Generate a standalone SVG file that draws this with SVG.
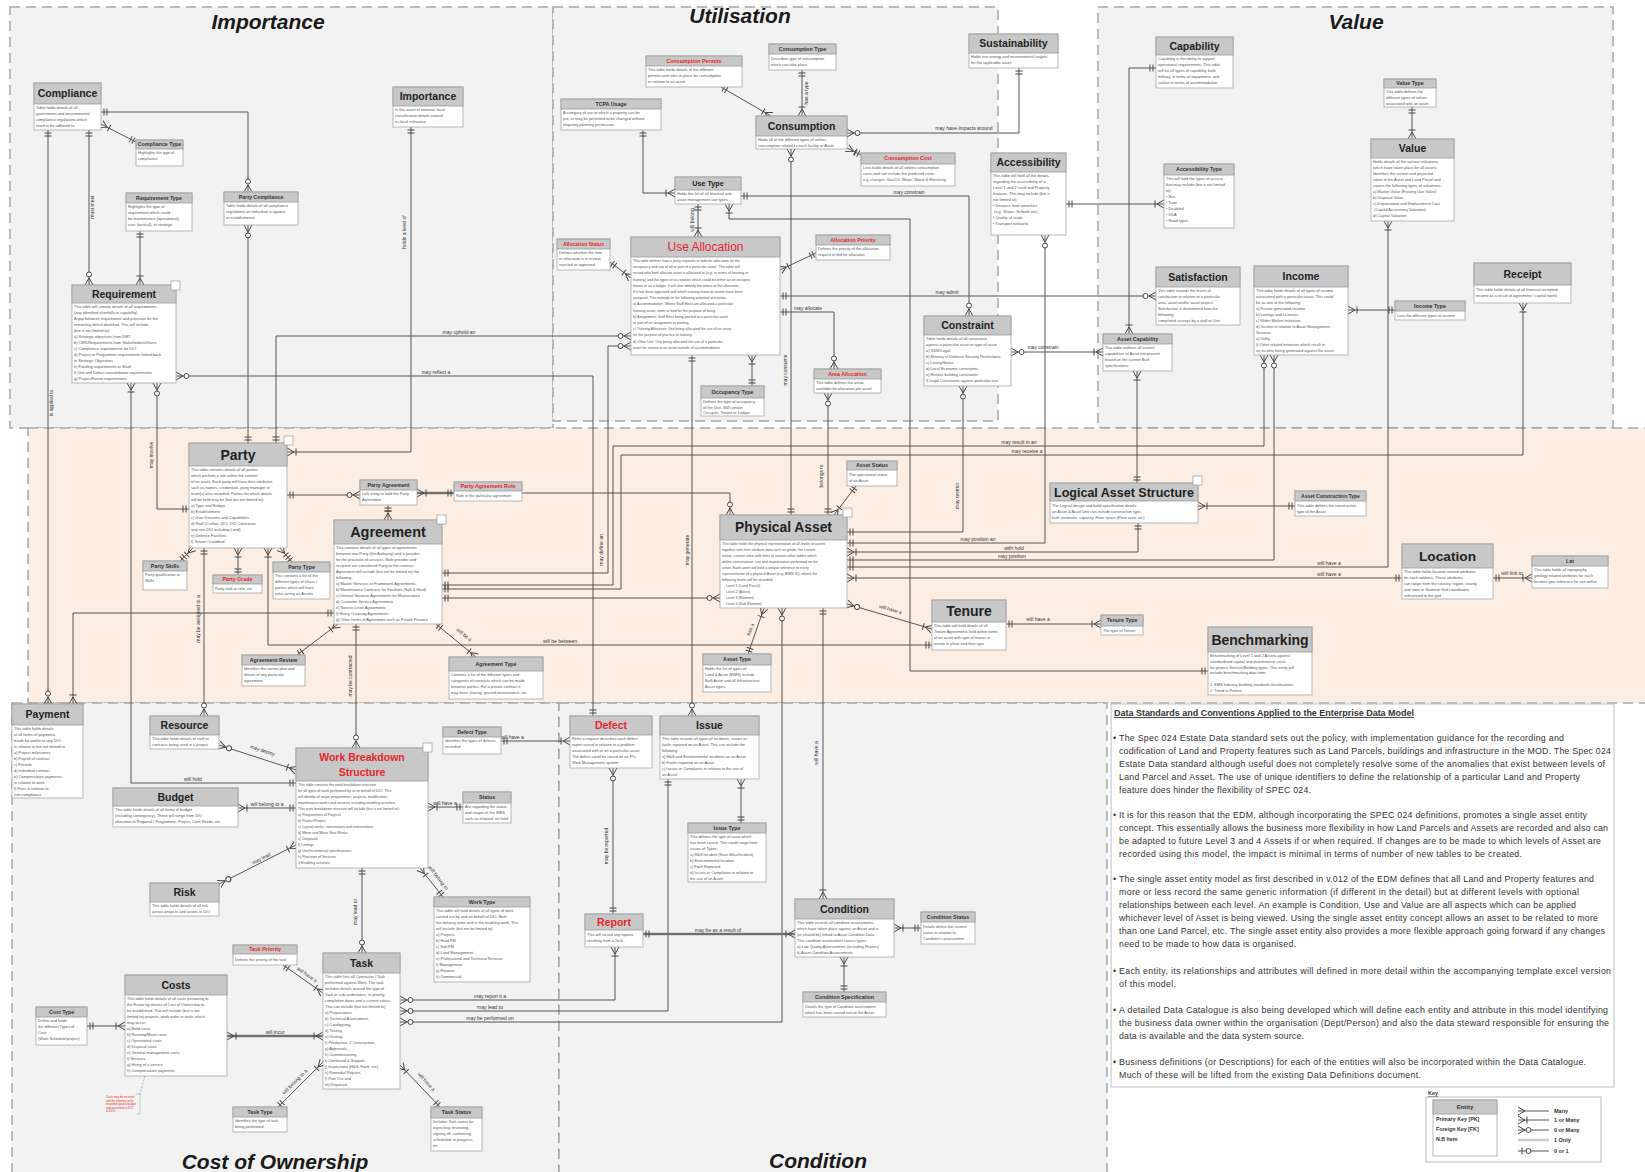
<svg xmlns="http://www.w3.org/2000/svg" width="1645" height="1172" viewBox="0 0 1645 1172">
<defs>
<style>
text{font-family:'Liberation Sans',Arial,sans-serif}
.rt{font-size:21px;font-weight:bold;font-style:italic;text-anchor:middle;fill:#1a1a1a}
.hd{fill:#c8c8c8;stroke:#9c9c9c;stroke-width:.8}
.bd{fill:#fff;stroke:#a8a8a8;stroke-width:.8}
.tm{font-size:10.5px;font-weight:bold;text-anchor:middle;fill:#222}
.tl{font-size:14px;font-weight:bold;text-anchor:middle;fill:#222}
.ts{font-size:5.3px;font-weight:bold;text-anchor:middle;fill:#333}
.red{fill:#e5262b}
.b{font-size:3.9px;fill:#555}
.b2{font-size:3.6px;fill:#555}
.lb{font-size:5px;fill:#333;text-anchor:middle}
.cn{fill:none;stroke:#555;stroke-width:1}
.th{fill:none;stroke:#8a8a8a;stroke-width:2.4}
.dash{stroke:#a6a6a6;stroke-width:1.5;stroke-dasharray:10 6}
.nt{fill:#fff;stroke:#9c9c9c;stroke-width:.7}
.ds{font-size:8.8px;fill:#333}
.mk{fill:none;stroke:#444;stroke-width:1}
</style>
<marker id="one" viewBox="0 0 12 10" refX="12" refY="5" markerWidth="12" markerHeight="10" markerUnits="userSpaceOnUse" orient="auto-start-reverse"><path class="mk" d="M6,1.5V8.5M9,1.5V8.5"/></marker>
<marker id="crow" viewBox="0 0 12 10" refX="12" refY="5" markerWidth="12" markerHeight="10" markerUnits="userSpaceOnUse" orient="auto-start-reverse"><path class="mk" d="M3,1.5V8.5M5,5L12,1M5,5L12,9"/></marker>
<marker id="many" viewBox="0 0 12 10" refX="12" refY="5" markerWidth="12" markerHeight="10" markerUnits="userSpaceOnUse" orient="auto-start-reverse"><path class="mk" d="M5,5L12,1M5,5L12,9"/></marker>
<marker id="zm" viewBox="0 0 14 10" refX="14" refY="5" markerWidth="14" markerHeight="10" markerUnits="userSpaceOnUse" orient="auto-start-reverse"><path class="mk" d="M7,5L14,1M7,5L14,9"/><circle cx="3.5" cy="5" r="2.5" fill="#fff" stroke="#444" stroke-width="1"/></marker>
<marker id="zo" viewBox="0 0 14 10" refX="14" refY="5" markerWidth="14" markerHeight="10" markerUnits="userSpaceOnUse" orient="auto-start-reverse"><path class="mk" d="M10,1.5V8.5"/><circle cx="3.5" cy="5" r="2.5" fill="#fff" stroke="#444" stroke-width="1"/></marker>
</defs>
<rect x="0" y="0" width="1645" height="1172" fill="#fff"/>
<g id="regions">
<rect x="10" y="7" width="543" height="421" fill="#f2f2f2" class="dash"/>
<rect x="553" y="7" width="445" height="414" fill="#f2f2f2" class="dash"/>
<rect x="1098" y="7" width="515" height="421" fill="#f2f2f2" class="dash"/>
<rect x="28" y="428" width="1625" height="275" fill="#fdeee3" class="dash"/>
<rect x="12" y="703" width="547" height="480" fill="#f2f2f2" class="dash"/>
<rect x="559" y="703" width="548" height="480" fill="#f2f2f2" class="dash"/>
<text class="rt" x="268" y="29">Importance</text>
<text class="rt" x="740" y="23">Utilisation</text>
<text class="rt" x="1356" y="29">Value</text>
<text class="rt" x="275" y="1169">Cost of Ownership</text>
<text class="rt" x="818" y="1168">Condition</text>
</g>
<g id="connectors">
<path class="cn" d="M101,112H248V192" marker-start="url(#one)" marker-end="url(#zm)"/>
<path class="cn" d="M101,124L136,142" marker-start="url(#crow)" marker-end="url(#one)"/>
<path class="cn" d="M89,130V285" marker-start="url(#one)" marker-end="url(#zm)"/>
<path class="cn" d="M48,130V704" marker-start="url(#one)" marker-end="url(#zm)"/>
<path class="cn" d="M140,231V285" marker-start="url(#one)" marker-end="url(#crow)"/>
<path class="cn" d="M248,225V443" marker-start="url(#zm)" marker-end="url(#one)"/>
<path class="cn" d="M411,127V452H287" marker-start="url(#one)" marker-end="url(#crow)"/>
<path class="cn" d="M157,383V509H189" marker-start="url(#zm)" marker-end="url(#one)"/>
<path class="cn" d="M131,383V783H296" marker-start="url(#crow)" marker-end="url(#one)"/>
<path class="cn" d="M176,376H593V716" marker-start="url(#zm)" marker-end="url(#one)"/>
<path class="cn" d="M276,443V336H631" marker-start="url(#one)" marker-end="url(#zm)"/>
<path class="cn" d="M631,346H608V573H442" marker-start="url(#zm)" marker-end="url(#one)"/>
<path class="cn" d="M1264,355V446H613V585H442" marker-start="url(#zm)" marker-end="url(#one)"/>
<path class="cn" d="M1523,303V455H621V589H442" marker-start="url(#crow)" marker-end="url(#one)"/>
<path class="cn" d="M692,355V716" marker-start="url(#one)" marker-end="url(#zm)"/>
<path class="cn" d="M752,355V386" marker-start="url(#crow)" marker-end="url(#one)"/>
<path class="cn" d="M698,204V237" marker-start="url(#one)" marker-end="url(#crow)"/>
<path class="cn" d="M643,130V193H675" marker-start="url(#one)" marker-end="url(#crow)"/>
<path class="cn" d="M721,87L771,116" marker-start="url(#one)" marker-end="url(#crow)"/>
<path class="cn" d="M802,70V116" marker-start="url(#one)" marker-end="url(#crow)"/>
<path class="cn" d="M847,133H1019V68" marker-start="url(#zm)" marker-end="url(#one)"/>
<path class="cn" d="M847,148L861,155" marker-start="url(#crow)" marker-end="url(#one)"/>
<path class="cn" d="M791,149V515" marker-start="url(#zm)" marker-end="url(#one)"/>
<path class="cn" d="M741,196H969V316" marker-start="url(#one)" marker-end="url(#zm)"/>
<path class="cn" d="M729,204V219H910V671H1208" marker-start="url(#crow)" marker-end="url(#one)"/>
<path class="cn" d="M610,262L631,278" marker-start="url(#one)" marker-end="url(#crow)"/>
<path class="cn" d="M816,253L780,270" marker-start="url(#one)" marker-end="url(#crow)"/>
<path class="cn" d="M780,296H1156" marker-start="url(#one)" marker-end="url(#zm)"/>
<path class="cn" d="M780,312H834V369" marker-start="url(#one)" marker-end="url(#zm)"/>
<path class="cn" d="M828,393V515" marker-start="url(#zm)" marker-end="url(#one)"/>
<path class="cn" d="M856,486L834,515" marker-start="url(#one)" marker-end="url(#crow)"/>
<path class="cn" d="M1011,352H1103" marker-start="url(#zm)" marker-end="url(#crow)"/>
<path class="cn" d="M963,386V532H847" marker-start="url(#zm)" marker-end="url(#one)"/>
<path class="cn" d="M1045,235V543H847" marker-start="url(#zm)" marker-end="url(#one)"/>
<path class="cn" d="M1156,68H1129V334" marker-start="url(#one)" marker-end="url(#crow)"/>
<path class="cn" d="M1066,204H1164" marker-start="url(#one)" marker-end="url(#crow)"/>
<path class="cn" d="M1412,107V139" marker-start="url(#one)" marker-end="url(#crow)"/>
<path class="cn" d="M1388,221V567H847" marker-start="url(#crow)" marker-end="url(#one)"/>
<path class="cn" d="M1274,355V560H847" marker-start="url(#zm)" marker-end="url(#one)"/>
<path class="cn" d="M1348,310H1395" marker-start="url(#crow)" marker-end="url(#one)"/>
<path class="cn" d="M1137,371V483" marker-start="url(#crow)" marker-end="url(#one)"/>
<path class="cn" d="M1138,523V552H847" marker-start="url(#one)" marker-end="url(#crow)"/>
<path class="cn" d="M1198,506H1295" marker-start="url(#crow)" marker-end="url(#one)"/>
<path class="cn" d="M1402,578H847" marker-start="url(#one)" marker-end="url(#crow)"/>
<path class="cn" d="M1493,578H1532" marker-start="url(#one)" marker-end="url(#crow)"/>
<path class="cn" d="M287,495H360" marker-start="url(#one)" marker-end="url(#zm)"/>
<path class="th" d="M417,493H454"/>
<path class="cn" d="M417,493H454" marker-start="url(#crow)" marker-end="url(#one)"/>
<path class="cn" d="M522,493H730V515" marker-end="url(#zm)"/>
<path class="cn" d="M388,505V520" marker-start="url(#one)" marker-end="url(#crow)"/>
<path class="cn" d="M442,598H720" marker-start="url(#one)" marker-end="url(#zm)"/>
<path class="cn" d="M193,548L180,561" marker-start="url(#crow)" marker-end="url(#one)"/>
<path class="cn" d="M238,548V575" marker-start="url(#crow)" marker-end="url(#one)"/>
<path class="cn" d="M280,548L292,562" marker-start="url(#crow)" marker-end="url(#one)"/>
<path class="cn" d="M268,548V645H932" marker-start="url(#crow)" marker-end="url(#one)"/>
<path class="cn" d="M204,548V716" marker-start="url(#one)" marker-end="url(#zm)"/>
<path class="cn" d="M73,704V613H334" marker-start="url(#crow)" marker-end="url(#one)"/>
<path class="cn" d="M338,624L297,655" marker-start="url(#crow)" marker-end="url(#one)"/>
<path class="cn" d="M436,624L476,657" marker-start="url(#one)" marker-end="url(#crow)"/>
<path class="cn" d="M356,624V748" marker-start="url(#one)" marker-end="url(#zm)"/>
<path class="cn" d="M219,745L296,770" marker-start="url(#zm)" marker-end="url(#crow)"/>
<path class="cn" d="M238,808H296" marker-start="url(#crow)" marker-end="url(#one)"/>
<path class="cn" d="M428,807H463" marker-start="url(#crow)" marker-end="url(#one)"/>
<path class="cn" d="M219,884L296,845" marker-start="url(#zm)" marker-end="url(#crow)"/>
<path class="cn" d="M443,897L420,868" marker-start="url(#one)" marker-end="url(#crow)"/>
<path class="cn" d="M362,868V953" marker-start="url(#one)" marker-end="url(#zm)"/>
<path class="cn" d="M283,965L323,993" marker-start="url(#one)" marker-end="url(#crow)"/>
<path class="cn" d="M323,1062L278,1107" marker-start="url(#crow)" marker-end="url(#one)"/>
<path class="cn" d="M400,1065L440,1107" marker-start="url(#crow)" marker-end="url(#one)"/>
<path class="th" d="M227,1036H323"/>
<path class="cn" d="M227,1036H323" marker-start="url(#crow)" marker-end="url(#crow)"/>
<path class="cn" d="M87,1026H125" marker-start="url(#one)" marker-end="url(#crow)"/>
<path class="cn" d="M400,1000H615V947" marker-start="url(#zm)" marker-end="url(#crow)"/>
<path class="cn" d="M400,1011H668V779" marker-start="url(#zm)" marker-end="url(#one)"/>
<path class="cn" d="M400,1022H782V608" marker-start="url(#zm)" marker-end="url(#zm)"/>
<path class="cn" d="M501,741H570" marker-start="url(#one)" marker-end="url(#crow)"/>
<path class="cn" d="M613,768V914" marker-start="url(#zm)" marker-end="url(#one)"/>
<path class="cn" d="M741,779V823" marker-start="url(#crow)" marker-end="url(#one)"/>
<path class="th" d="M643,934H795"/>
<path class="cn" d="M643,934H795" marker-start="url(#one)" marker-end="url(#crow)"/>
<path class="cn" d="M823,608V899" marker-start="url(#one)" marker-end="url(#crow)"/>
<path class="cn" d="M894,928H921" marker-start="url(#crow)" marker-end="url(#one)"/>
<path class="cn" d="M844,957V992" marker-start="url(#crow)" marker-end="url(#one)"/>
<path class="cn" d="M764,608L748,654" marker-start="url(#crow)" marker-end="url(#one)"/>
<path class="cn" d="M847,604L932,629" marker-start="url(#zm)" marker-end="url(#crow)"/>
<path class="cn" d="M1006,624H1101" marker-start="url(#one)" marker-end="url(#crow)"/>
<path d="M145,1076L140,1094" fill="none" stroke="#888" stroke-width=".7" stroke-dasharray="2 1.5"/>
</g>
<g id="labels">
<text class="lb" transform="translate(94,207) rotate(-90)">must meet</text>
<text class="lb" transform="translate(53,403) rotate(-90)">is applied to</text>
<text class="lb" transform="translate(406,232) rotate(-90)">holds a level of</text>
<text class="lb" transform="translate(153,455) rotate(-90)">may involve</text>
<text class="lb" x="193" y="781">will hold</text>
<text class="lb" x="436" y="374">may reflect a</text>
<text class="lb" x="459" y="334">may uphold an</text>
<text class="lb" transform="translate(603,550) rotate(-90)">may define an</text>
<text class="lb" x="1019" y="444">may result in an</text>
<text class="lb" x="1027" y="453">may receive a</text>
<text class="lb" transform="translate(689,550) rotate(-90)">may generate</text>
<text class="lb" transform="translate(694,220) rotate(-90)">will belong</text>
<text class="lb" transform="translate(808,93) rotate(-90)">has a type</text>
<text class="lb" x="964" y="130">may have impacts around</text>
<text class="lb" transform="translate(787,370) rotate(-90)">may consume</text>
<text class="lb" x="909" y="194">may constrain</text>
<text class="lb" x="947" y="294">may admit</text>
<text class="lb" x="808" y="310">may allocate</text>
<text class="lb" transform="translate(823,476) rotate(-90)">belongs to</text>
<text class="lb" x="1043" y="349">may constrain</text>
<text class="lb" transform="translate(959,496) rotate(-90)">may restrict</text>
<text class="lb" x="978" y="541">may position an</text>
<text class="lb" x="1014" y="550">with hold</text>
<text class="lb" x="1012" y="558">may position</text>
<text class="lb" x="1329" y="565">will have a</text>
<text class="lb" x="1329" y="576">will have a</text>
<text class="lb" x="1512" y="575">will link to</text>
<text class="lb" x="560" y="643">will be between</text>
<text class="lb" transform="translate(200,619) rotate(-90)">may be assigned to a</text>
<text class="lb" transform="translate(463,636) rotate(40)">will be a</text>
<text class="lb" transform="translate(352,676) rotate(-90)">may be contracted</text>
<text class="lb" transform="translate(262,752) rotate(18)">may deploy</text>
<text class="lb" x="267" y="806">will belong to a</text>
<text class="lb" x="445" y="805">will have a</text>
<text class="lb" transform="translate(262,860) rotate(-27)">may lead</text>
<text class="lb" transform="translate(437,879) rotate(52)">will belong to</text>
<text class="lb" transform="translate(357,912) rotate(-90)">may lead to</text>
<text class="lb" transform="translate(306,976) rotate(35)">will have a</text>
<text class="lb" transform="translate(296,1083) rotate(-45)">will belong to a</text>
<text class="lb" transform="translate(425,1083) rotate(48)">will have a</text>
<text class="lb" x="275" y="1034">will incur</text>
<text class="lb" x="490" y="998">may report it a</text>
<text class="lb" x="490" y="1009">may lead to</text>
<text class="lb" x="490" y="1020">may be performed on</text>
<text class="lb" x="512" y="739">will have a</text>
<text class="lb" transform="translate(608,846) rotate(-90)">may be reported</text>
<text class="lb" x="718" y="932">may be as a result of</text>
<text class="lb" transform="translate(818,753) rotate(-90)">will have a</text>
<text class="lb" transform="translate(752,630) rotate(-70)">has a</text>
<text class="lb" transform="translate(890,611) rotate(16)">will have a</text>
<text class="lb" x="1038" y="621">will have a</text>
</g>
<g id="n-compliance"><rect class="bd" x="34" y="83" width="67" height="47"/><rect class="hd" x="34" y="83" width="67" height="21"/><text class="tm" x="67.5" y="97.3">Compliance</text><text class="b" x="36" y="109">Table holds details of all<tspan x="36" dy="6">government and environmental</tspan><tspan x="36" dy="6">compliance regulations which</tspan><tspan x="36" dy="6">need to be adhered to.</tspan></text></g>
<g id="n-compliance-type"><rect class="bd" x="136" y="140" width="47" height="26"/><rect class="hd" x="136" y="140" width="47" height="9"/><text class="ts" x="159.5" y="146.4">Compliance Type</text><text class="b" x="138" y="154">Highlights the type of<tspan x="138" dy="6">compliance</tspan></text></g>
<g id="n-requirement-type"><rect class="bd" x="126" y="193" width="66" height="38"/><rect class="hd" x="126" y="193" width="66" height="10"/><text class="ts" x="159" y="199.9">Requirement Type</text><text class="b" x="128" y="208">Highlights the type of<tspan x="128" dy="6">requirement which could</tspan><tspan x="128" dy="6">be maintenance (operational),</tspan><tspan x="128" dy="6">user (tactical), or strategic</tspan></text></g>
<g id="n-party-compliance"><rect class="bd" x="224" y="192" width="74" height="33"/><rect class="hd" x="224" y="192" width="74" height="10"/><text class="ts" x="261" y="198.9">Party Compliance</text><text class="b" x="226" y="207">Table holds details of all compliance<tspan x="226" dy="6">regulations an individual is against</tspan><tspan x="226" dy="6">or establishment.</tspan></text></g>
<g id="n-importance"><rect class="bd" x="393" y="87" width="70" height="40"/><rect class="hd" x="393" y="87" width="70" height="19"/><text class="tm" x="428" y="100.3">Importance</text><text class="b" x="395" y="111">Is this asset of national, local<tspan x="395" dy="6">classification details around</tspan><tspan x="395" dy="6">its local relevance</tspan></text></g>
<g id="n-requirement"><rect class="bd" x="72" y="285" width="104" height="98"/><rect class="hd" x="72" y="285" width="104" height="18"/><text class="tm" x="124" y="297.8">Requirement</text><rect class="nt" x="171" y="281" width="9" height="9"/><text class="b" x="74" y="308">This table will contain details of all requirements.<tspan x="74" dy="6">(any identified shortfalls in capability)</tspan><tspan x="74" dy="6">A gap between requirement and provision for the</tspan><tspan x="74" dy="6">remaining deficit identified. This will include</tspan><tspan x="74" dy="6">(but is not limited to):</tspan><tspan x="74" dy="6">a) Strategic objectives from DMT</tspan><tspan x="74" dy="6">b) CMS/Requirements from Stakeholders/Users</tspan><tspan x="74" dy="6">c) Compliance requirements for DIO</tspan><tspan x="74" dy="6">d) Project or Programme requirements linked back</tspan><tspan x="74" dy="6">to Strategic Objectives</tspan><tspan x="74" dy="6">e) Funding requirements or Shaft</tspan><tspan x="74" dy="6">f) Unit and Defect consolidation requirements</tspan><tspan x="74" dy="6">g) Project/Future requirements</tspan></text></g>
<g id="n-tcpa-usage"><rect class="bd" x="561" y="99" width="100" height="31"/><rect class="hd" x="561" y="99" width="100" height="10"/><text class="ts" x="611" y="105.9">TCPA Usage</text><text class="b" x="563" y="114">A category of use to which a property can be<tspan x="563" dy="6">put, or may be permitted to be changed without</tspan><tspan x="563" dy="6">requiring planning permission</tspan></text></g>
<g id="n-consumption-permits"><rect class="bd" x="646" y="56" width="96" height="31"/><rect class="hd" x="646" y="56" width="96" height="10"/><text class="ts red" x="694" y="62.9">Consumption Permits</text><text class="b" x="648" y="71">This table holds details of the different<tspan x="648" dy="6">permits and rules in place for consumption</tspan><tspan x="648" dy="6">in relation to an asset</tspan></text></g>
<g id="n-consumption-type"><rect class="bd" x="769" y="44" width="67" height="26"/><rect class="hd" x="769" y="44" width="67" height="10"/><text class="ts" x="802.5" y="50.9">Consumption Type</text><text class="b" x="771" y="60">Describes type of consumption<tspan x="771" dy="6">which can take place</tspan></text></g>
<g id="n-consumption"><rect class="bd" x="756" y="116" width="91" height="33"/><rect class="hd" x="756" y="116" width="91" height="20"/><text class="tm" x="801.5" y="129.8">Consumption</text><text class="b" x="758" y="141">Holds all of the different types of utilities<tspan x="758" dy="6">consumption related to each facility or Asset</tspan></text></g>
<g id="n-sustainability"><rect class="bd" x="969" y="34" width="89" height="34"/><rect class="hd" x="969" y="34" width="89" height="19"/><text class="tm" x="1013.5" y="47.3">Sustainability</text><text class="b" x="971" y="58">Holds use energy and environmental targets<tspan x="971" dy="6">for the applicable asset</tspan></text></g>
<g id="n-consumption-cost"><rect class="bd" x="861" y="153" width="94" height="33"/><rect class="hd" x="861" y="153" width="94" height="11"/><text class="ts red" x="908" y="160.4">Consumption Cost</text><text class="b" x="863" y="169">Lists holds details of all utilities consumption<tspan x="863" dy="6">costs and can include the predicted costs</tspan><tspan x="863" dy="6">e.g. charges: Gas/Oil, Water, Waste &amp; Electricity</tspan></text></g>
<g id="n-accessibility"><rect class="bd" x="991" y="153" width="75" height="82"/><rect class="hd" x="991" y="153" width="75" height="19"/><text class="tm" x="1028.5" y="166.3">Accessibility</text><text class="b" x="993" y="177">This table will hold all the details<tspan x="993" dy="6">regarding the accessibility of a</tspan><tspan x="993" dy="6">Level 1 and 2 Land and Property</tspan><tspan x="993" dy="6">features. This may include (but is</tspan><tspan x="993" dy="6">not limited to):</tspan><tspan x="993" dy="6">• Distance from amenities</tspan><tspan x="993" dy="6">   (e.g. Shops, Schools etc)</tspan><tspan x="993" dy="6">• Quality of roads</tspan><tspan x="993" dy="6">• Transport networks</tspan></text></g>
<g id="n-use-type"><rect class="bd" x="675" y="177" width="66" height="27"/><rect class="hd" x="675" y="177" width="66" height="13"/><text class="tm" style="font-size:7.2px" x="708" y="186.1">Use Type</text><text class="b" x="677" y="195">Holds the list of all financial and<tspan x="677" dy="6">asset management use types</tspan></text></g>
<g id="n-use-allocation"><rect class="bd" x="631" y="237" width="149" height="118"/><rect class="hd" x="631" y="237" width="149" height="20"/><text class="tm red" style="font-size:12px;font-weight:normal" x="705.5" y="251.3">Use Allocation</text><text class="b2" x="633" y="262">This table defines how a party requests or bids for allocation on the<tspan x="633" dy="6.2">occupancy and use of all or part of a particular asset. This table will</tspan><tspan x="633" dy="6.2">record who both allocate asset is allocated to (e.g. in terms of housing or</tspan><tspan x="633" dy="6.2">training) and the types of occupation which could be either as an occupier,</tspan><tspan x="633" dy="6.2">tenant or as a lodger. It will also identify the status of the allocation,</tspan><tspan x="633" dy="6.2">if it has been approved and which training areas or assets have been</tspan><tspan x="633" dy="6.2">assigned. This extends to the following potential scenarios:</tspan><tspan x="633" dy="6.2">a) Accommodation: Where Staff Elect are allocated a particular</tspan><tspan x="633" dy="6.2">housing asset, room or bed for the purpose of living</tspan><tspan x="633" dy="6.2">b) Assignment: Staff Elect being posted to a particular asset</tspan><tspan x="633" dy="6.2">or part of an assignment or posting</tspan><tspan x="633" dy="6.2">c) Training Allocation: Unit being allocated the use of an asset</tspan><tspan x="633" dy="6.2">for the purpose of practice or training</tspan><tspan x="633" dy="6.2">d) Other Use: Unit being allocated the use of a particular</tspan><tspan x="633" dy="6.2">asset for events at an asset outside of accommodation</tspan></text></g>
<g id="n-allocation-status"><rect class="bd" x="557" y="239" width="53" height="31"/><rect class="hd" x="557" y="239" width="53" height="10"/><text class="ts red" style="font-size:5px" x="583.5" y="245.8">Allocation Status</text><text class="b" x="559" y="254">Defines whether the item<tspan x="559" dy="6">or allocation is in review,</tspan><tspan x="559" dy="6">rejected or approved</tspan></text></g>
<g id="n-allocation-priority"><rect class="bd" x="816" y="235" width="74" height="25"/><rect class="hd" x="816" y="235" width="74" height="10"/><text class="ts red" x="853" y="241.9">Allocation Priority</text><text class="b" x="818" y="250">Defines the priority of the allocation<tspan x="818" dy="6">request or bid for allocation</tspan></text></g>
<g id="n-occupancy-type"><rect class="bd" x="701" y="386" width="63" height="30"/><rect class="hd" x="701" y="386" width="63" height="12"/><text class="ts" x="732.5" y="393.9">Occupancy Type</text><text class="b" x="703" y="403">Defines the type of occupancy<tspan x="703" dy="5.5">of the Unit. Will contain</tspan><tspan x="703" dy="5.5">Occupier, Tenant or Lodger</tspan></text></g>
<g id="n-area-allocation"><rect class="bd" x="814" y="369" width="67" height="24"/><rect class="hd" x="814" y="369" width="67" height="10"/><text class="ts red" x="847.5" y="375.9">Area Allocation</text><text class="b" x="816" y="384">This table defines the areas<tspan x="816" dy="6">available for allocation per asset</tspan></text></g>
<g id="n-constraint"><rect class="bd" x="924" y="316" width="87" height="70"/><rect class="hd" x="924" y="316" width="87" height="19"/><text class="tm" x="967.5" y="329.3">Constraint</text><text class="b" x="926" y="340">Table holds details of all constraints<tspan x="926" dy="6">against a particular asset or type of asset</tspan><tspan x="926" dy="6">a) SSSI/Legal</tspan><tspan x="926" dy="6">b) Ministry of Defence Security Restrictions</tspan><tspan x="926" dy="6">c) Listing/Status</tspan><tspan x="926" dy="6">d) Local Economic constraints</tspan><tspan x="926" dy="6">e) Historic building constraints</tspan><tspan x="926" dy="6">f) Legal Constraints against particular use</tspan></text></g>
<g id="n-capability"><rect class="bd" x="1156" y="37" width="77" height="51"/><rect class="hd" x="1156" y="37" width="77" height="18"/><text class="tm" x="1194.5" y="49.8">Capability</text><text class="b" x="1158" y="60">Capability is the ability to support<tspan x="1158" dy="6">operational requirements. This table</tspan><tspan x="1158" dy="6">will list all types of capability, both</tspan><tspan x="1158" dy="6">military, in terms of equipments and</tspan><tspan x="1158" dy="6">civilian in terms of accommodation</tspan></text></g>
<g id="n-value-type"><rect class="bd" x="1384" y="79" width="52" height="28"/><rect class="hd" x="1384" y="79" width="52" height="9"/><text class="ts" x="1410" y="85.4">Value Type</text><text class="b" x="1386" y="93">This table defines the<tspan x="1386" dy="6">different types of values</tspan><tspan x="1386" dy="6">associated with an asset</tspan></text></g>
<g id="n-value"><rect class="bd" x="1371" y="139" width="83" height="82"/><rect class="hd" x="1371" y="139" width="83" height="19"/><text class="tm" x="1412.5" y="152.3">Value</text><text class="b" x="1373" y="163">Holds details of the various valuations<tspan x="1373" dy="6">which have taken place for all assets.</tspan><tspan x="1373" dy="6">Identifies the current and projected</tspan><tspan x="1373" dy="6">value of the Asset and Land Parcel and</tspan><tspan x="1373" dy="6">covers the following types of valuations:</tspan><tspan x="1373" dy="6">a) Market Value (Existing Use Value)</tspan><tspan x="1373" dy="6">b) Disposal Value</tspan><tspan x="1373" dy="6">c) Depreciation and Replacement Cost</tspan><tspan x="1373" dy="6">   (Capital Accounting Valuation)</tspan><tspan x="1373" dy="6">d) Capital Valuation</tspan></text></g>
<g id="n-accessibility-type"><rect class="bd" x="1164" y="164" width="70" height="64"/><rect class="hd" x="1164" y="164" width="70" height="11"/><text class="ts" x="1199" y="171.4">Accessibility Type</text><text class="b" x="1166" y="180">This will hold the types of access<tspan x="1166" dy="6">that may include (but is not limited</tspan><tspan x="1166" dy="6">to):</tspan><tspan x="1166" dy="6">• Bus</tspan><tspan x="1166" dy="6">• Train</tspan><tspan x="1166" dy="6">• Disabled</tspan><tspan x="1166" dy="6">• DDA</tspan><tspan x="1166" dy="6">• Road types</tspan></text></g>
<g id="n-satisfaction"><rect class="bd" x="1156" y="267" width="84" height="58"/><rect class="hd" x="1156" y="267" width="84" height="20"/><text class="tm" x="1198" y="280.8">Satisfaction</text><text class="b" x="1158" y="292">This table records the levels of<tspan x="1158" dy="6">satisfaction in relation to a particular</tspan><tspan x="1158" dy="6">area, asset and/or asset project.</tspan><tspan x="1158" dy="6">Satisfaction is determined from the</tspan><tspan x="1158" dy="6">following:</tspan><tspan x="1158" dy="6">completed surveys by a staff or Unit</tspan></text></g>
<g id="n-income"><rect class="bd" x="1254" y="266" width="94" height="89"/><rect class="hd" x="1254" y="266" width="94" height="21"/><text class="tm" x="1301" y="280.3">Income</text><text class="b" x="1256" y="292">This table holds details of all types of income<tspan x="1256" dy="6">associated with a particular asset. This could</tspan><tspan x="1256" dy="6">be as one of the following:</tspan><tspan x="1256" dy="6">a) Private generated Income</tspan><tspan x="1256" dy="6">b) Lettings and Licences</tspan><tspan x="1256" dy="6">c) Wider Market Initiatives</tspan><tspan x="1256" dy="6">d) Income in relation to Asset Management</tspan><tspan x="1256" dy="6">Services</tspan><tspan x="1256" dy="6">e) Utility</tspan><tspan x="1256" dy="6">f) Other related initiatives which result in</tspan><tspan x="1256" dy="6">an income being generated against the asset</tspan></text></g>
<g id="n-receipt"><rect class="bd" x="1474" y="263" width="97" height="40"/><rect class="hd" x="1474" y="263" width="97" height="22"/><text class="tm" x="1522.5" y="277.8">Receipt</text><text class="b" x="1476" y="291">This table holds details of all financial receipted<tspan x="1476" dy="6">income as a result of agreement / capital works</tspan></text></g>
<g id="n-income-type"><rect class="bd" x="1395" y="301" width="70" height="19"/><rect class="hd" x="1395" y="301" width="70" height="10"/><text class="ts" x="1430" y="307.9">Income Type</text><text class="b" x="1397" y="317">Lists the different types of income</text></g>
<g id="n-asset-capability"><rect class="bd" x="1103" y="334" width="69" height="37"/><rect class="hd" x="1103" y="334" width="69" height="10"/><text class="ts" x="1137.5" y="340.9">Asset Capability</text><text class="b" x="1105" y="349">This table outlines all current<tspan x="1105" dy="6">capabilities of Asset not present</tspan><tspan x="1105" dy="6">based on the current Built</tspan><tspan x="1105" dy="6">specifications</tspan></text></g>
<g id="n-party"><rect class="bd" x="189" y="443" width="98" height="105"/><rect class="hd" x="189" y="443" width="98" height="23"/><text class="tl" x="238" y="459.5">Party</text><rect class="nt" x="284" y="436" width="9" height="9"/><text class="b" x="191" y="471">This table contains details of all parties<tspan x="191" dy="6">which perform a role within the context</tspan><tspan x="191" dy="6">of an asset. Each party will have their attributes</tspan><tspan x="191" dy="6">such as names, credentials, party manager or</tspan><tspan x="191" dy="6">team(s) also recorded. Parties for which details</tspan><tspan x="191" dy="6">will be held may be (but are not limited to):</tspan><tspan x="191" dy="6">a) Type and Budget</tspan><tspan x="191" dy="6">b) Establishment</tspan><tspan x="191" dy="6">c) User Divisions and Capabilities</tspan><tspan x="191" dy="6">d) Staff (Civilian, DIO, DIO Contractor</tspan><tspan x="191" dy="6">and non DIO including Land)</tspan><tspan x="191" dy="6">e) Defence Facilities</tspan><tspan x="191" dy="6">f) Tenant / Landlord</tspan></text></g>
<g id="n-party-agreement"><rect class="bd" x="360" y="480" width="57" height="25"/><rect class="hd" x="360" y="480" width="57" height="10"/><text class="ts" x="388.5" y="486.9">Party Agreement</text><text class="b" x="362" y="495">Link entity to hold the Party<tspan x="362" dy="6">Agreement</tspan></text></g>
<g id="n-party-agreement-role"><rect class="bd" x="454" y="482" width="68" height="19"/><rect class="hd" x="454" y="482" width="68" height="9"/><text class="ts red" x="488" y="488.4">Party Agreement Role</text><text class="b red" x="456" y="497">Role in the particular agreement</text></g>
<g id="n-agreement"><rect class="bd" x="334" y="520" width="108" height="104"/><rect class="hd" x="334" y="520" width="108" height="24"/><text class="tl" style="font-size:14.5px" x="388" y="537.2">Agreement</text><rect class="nt" x="437" y="515" width="9" height="9"/><text class="b" x="336" y="549">This contains details of all types of agreements<tspan x="336" dy="6">between one Party (the Authority) and a provider</tspan><tspan x="336" dy="6">for the provision of services. Both provider and</tspan><tspan x="336" dy="6">recipient are considered Party to the contract.</tspan><tspan x="336" dy="6">Agreement will include (but not be limited to) the</tspan><tspan x="336" dy="6">following:</tspan><tspan x="336" dy="6">a) Master Services or Framework Agreements</tspan><tspan x="336" dy="6">b) Maintenance Contracts for Facilities (Soft &amp; Hard)</tspan><tspan x="336" dy="6">c) Internal Services Agreements for Maintenance</tspan><tspan x="336" dy="6">d) Customer Service Agreements</tspan><tspan x="336" dy="6">e) Service Level Agreements</tspan><tspan x="336" dy="6">f) Hiring / Leasing Agreements</tspan><tspan x="336" dy="6">g) Other forms of Agreement such as Private Finance</tspan></text></g>
<g id="n-party-skills"><rect class="bd" x="143" y="561" width="44" height="29"/><rect class="hd" x="143" y="561" width="44" height="10"/><text class="ts" x="165" y="567.9">Party Skills</text><text class="b" x="145" y="576">Party qualification or<tspan x="145" dy="6">Skills</tspan></text></g>
<g id="n-party-grade"><rect class="bd" x="213" y="575" width="49" height="18"/><rect class="hd" x="213" y="575" width="49" height="9"/><text class="ts red" x="237.5" y="581.4">Party Grade</text><text class="b red" x="215" y="590">Party rank or role, etc</text></g>
<g id="n-party-type"><rect class="bd" x="273" y="562" width="57" height="37"/><rect class="hd" x="273" y="562" width="57" height="10"/><text class="ts" x="301.5" y="568.9">Party Type</text><text class="b" x="275" y="577">This contains a list of the<tspan x="275" dy="6">different types of Users /</tspan><tspan x="275" dy="6">parties which will have</tspan><tspan x="275" dy="6">roles acting on Assets</tspan></text></g>
<g id="n-agreement-review"><rect class="bd" x="242" y="655" width="63" height="31"/><rect class="hd" x="242" y="655" width="63" height="10"/><text class="ts" x="273.5" y="661.9">Agreement Review</text><text class="b" x="244" y="670">Identifies the review plan and<tspan x="244" dy="6">details of any particular</tspan><tspan x="244" dy="6">agreement</tspan></text></g>
<g id="n-agreement-type"><rect class="bd" x="449" y="657" width="94" height="42"/><rect class="hd" x="449" y="657" width="94" height="14"/><text class="ts" x="496" y="665.9">Agreement Type</text><text class="b" x="451" y="676">Contains a list of the different types and<tspan x="451" dy="6">categories of contracts which can be made</tspan><tspan x="451" dy="6">between parties. For a private contract it</tspan><tspan x="451" dy="6">may have sharing, ground maintenance, etc</tspan></text></g>
<g id="n-asset-status"><rect class="bd" x="847" y="461" width="50" height="25"/><rect class="hd" x="847" y="461" width="50" height="9"/><text class="ts" x="872" y="467.4">Asset Status</text><text class="b" x="849" y="476">The operational status<tspan x="849" dy="6">of an Asset</tspan></text></g>
<g id="n-physical-asset"><rect class="bd" x="720" y="515" width="127" height="93"/><rect class="hd" x="720" y="515" width="127" height="25"/><text class="tl" style="font-size:13.8px" x="783.5" y="532.4">Physical Asset</text><rect class="nt" x="843" y="508" width="9" height="9"/><text class="b2" x="722" y="545">This table holds the physical representation of all levels of assets<tspan x="722" dy="6">together with their attribute data such as grade, the current</tspan><tspan x="722" dy="6">status, current value with links to various other tables which</tspan><tspan x="722" dy="6">define conservation, use and maintenance performed on the</tspan><tspan x="722" dy="6">asset. Each asset will hold a unique reference to every</tspan><tspan x="722" dy="6">representation of a physical Asset (e.g. EIMS ID), where the</tspan><tspan x="722" dy="6">following levels will be recorded:</tspan><tspan x="726" dy="6">Level 1 (Land Parcel)</tspan><tspan x="726" dy="6">Level 2 (Asset)</tspan><tspan x="726" dy="6">Level 3 (Element)</tspan><tspan x="726" dy="6">Level 4 (Sub-Element)</tspan></text></g>
<g id="n-logical-asset-structure"><rect class="bd" x="1050" y="483" width="148" height="40"/><rect class="hd" x="1050" y="483" width="148" height="18"/><text class="tl" style="font-size:12.5px" x="1124" y="496.5">Logical Asset Structure</text><rect class="nt" x="1193" y="476" width="9" height="9"/><text class="b" x="1052" y="507">The Logical design and build specification details<tspan x="1052" dy="6">an Asset &amp; Asset Unit can include construction type,</tspan><tspan x="1052" dy="6">built, materials, capacity, Floor space (Floor area, etc)</tspan></text></g>
<g id="n-asset-construction-type"><rect class="bd" x="1295" y="491" width="71" height="25"/><rect class="hd" x="1295" y="491" width="71" height="10"/><text class="ts" style="font-size:5px" x="1330.5" y="497.8">Asset Construction Type</text><text class="b" x="1297" y="507">This table defines the construction<tspan x="1297" dy="6">type of the Asset</tspan></text></g>
<g id="n-location"><rect class="bd" x="1402" y="544" width="91" height="55"/><rect class="hd" x="1402" y="544" width="91" height="24"/><text class="tl" style="font-size:13.7px" x="1447.5" y="560.9">Location</text><text class="b" x="1404" y="573">This table holds location related attributes<tspan x="1404" dy="6">for each address. These attributes</tspan><tspan x="1404" dy="6">can range from the country, region, county,</tspan><tspan x="1404" dy="6">and town or National Grid coordinates</tspan><tspan x="1404" dy="6">referenced to the grid</tspan></text></g>
<g id="n-lat"><rect class="bd" x="1532" y="556" width="76" height="32"/><rect class="hd" x="1532" y="556" width="76" height="10"/><text class="ts" x="1570" y="562.9">Lat</text><text class="b" x="1534" y="571">This table holds all topography,<tspan x="1534" dy="6">geology related attributes for each</tspan><tspan x="1534" dy="6">location geo-reference for use within</tspan></text></g>
<g id="n-tenure"><rect class="bd" x="932" y="600" width="74" height="50"/><rect class="hd" x="932" y="600" width="74" height="22"/><text class="tl" x="969" y="616">Tenure</text><text class="b" x="934" y="627">This table will hold details of all<tspan x="934" dy="6">Tenure Agreements held within terms</tspan><tspan x="934" dy="6">of an asset with type of leases or</tspan><tspan x="934" dy="6">tenure in place and their type</tspan></text></g>
<g id="n-tenure-type"><rect class="bd" x="1101" y="615" width="42" height="20"/><rect class="hd" x="1101" y="615" width="42" height="11"/><text class="ts" x="1122" y="622.4">Tenure Type</text><text class="b" x="1103" y="632">The type of Tenure</text></g>
<g id="n-benchmarking"><rect class="bd" x="1208" y="627" width="104" height="68"/><rect class="hd" x="1208" y="627" width="104" height="25"/><text class="tl" x="1260" y="644.5">Benchmarking</text><text class="b" x="1210" y="657">Benchmarking of Level 1 and 2 Assets against<tspan x="1210" dy="5.8">standardised capital and maintenance costs</tspan><tspan x="1210" dy="5.8">for generic Service/Building types. This entity will</tspan><tspan x="1210" dy="5.8">include benchmarking data from:</tspan><tspan x="1210" dy="11.6">1. EMS Industry building standard classifications</tspan><tspan x="1210" dy="5.8">2. Trend in Pattern</tspan></text></g>
<g id="n-asset-type"><rect class="bd" x="703" y="654" width="68" height="38"/><rect class="hd" x="703" y="654" width="68" height="11"/><text class="ts" x="737" y="661.4">Asset Type</text><text class="b" x="705" y="670">Holds the list of types of<tspan x="705" dy="6">Land &amp; Asset (EIMS) include</tspan><tspan x="705" dy="6">Built Asset and all Infrastructure</tspan><tspan x="705" dy="6">Asset types</tspan></text></g>
<g id="n-payment"><rect class="bd" x="12" y="704" width="71" height="94"/><rect class="hd" x="12" y="704" width="71" height="21"/><text class="tm" x="47.5" y="718.3">Payment</text><text class="b" x="14" y="730">This table holds details<tspan x="14" dy="6">of all forms of payments</tspan><tspan x="14" dy="6">made by and/or to any DIO</tspan><tspan x="14" dy="6">in relation to but not limited to:</tspan><tspan x="14" dy="6">a) Project milestones</tspan><tspan x="14" dy="6">b) Payroll of contract</tspan><tspan x="14" dy="6">c) Periodic</tspan><tspan x="14" dy="6">d) Individual contract</tspan><tspan x="14" dy="6">e) Compensation payments</tspan><tspan x="14" dy="6">in relation to work</tspan><tspan x="14" dy="6">f) Fees in relation to</tspan><tspan x="14" dy="6">non-compliance</tspan></text></g>
<g id="n-resource"><rect class="bd" x="150" y="716" width="69" height="33"/><rect class="hd" x="150" y="716" width="69" height="19"/><text class="tm" x="184.5" y="729.3">Resource</text><text class="b" x="152" y="740">This table holds details of staff or<tspan x="152" dy="6">contracts being used in a project</tspan></text></g>
<g id="n-wbs"><rect class="bd" x="296" y="748" width="132" height="120"/><rect class="hd" x="296" y="748" width="132" height="33"/><text class="tm red" x="362" y="761">Work Breakdown</text><text class="tm red" x="362" y="776">Structure</text><rect class="nt" x="423" y="743" width="9" height="9"/><text class="b2" x="298" y="786">This table contains the work breakdown structure<tspan x="298" dy="6">for all types of work performed by or on behalf of DIO. This</tspan><tspan x="298" dy="6">will identify all major programmes, projects, modification,</tspan><tspan x="298" dy="6">maintenance works and services including enabling activities.</tspan><tspan x="298" dy="6">This work breakdown structure will include (but is not limited to):</tspan><tspan x="298" dy="6">a) Programmes of Projects</tspan><tspan x="298" dy="6">b) Project/Project</tspan><tspan x="298" dy="6">c) Capital works, conversions and interventions</tspan><tspan x="298" dy="6">d) Minor and Minor New Works</tspan><tspan x="298" dy="6">e) Disposals</tspan><tspan x="298" dy="6">f) Lettings</tspan><tspan x="298" dy="6">g) Unit/Incremental specifications</tspan><tspan x="298" dy="6">h) Provision of Services</tspan><tspan x="298" dy="6">i) Enabling activities</tspan></text></g>
<g id="n-status"><rect class="bd" x="463" y="792" width="48" height="31"/><rect class="hd" x="463" y="792" width="48" height="11"/><text class="ts" x="487" y="799.4">Status</text><text class="b" x="465" y="808">Are regarding the status<tspan x="465" dy="6">and stages of the WBS</tspan><tspan x="465" dy="6">such as initiated, on hold</tspan></text></g>
<g id="n-budget"><rect class="bd" x="113" y="788" width="125" height="39"/><rect class="hd" x="113" y="788" width="125" height="18"/><text class="tm" x="175.5" y="800.8">Budget</text><text class="b" x="115" y="811">This table holds details of all forms of budget<tspan x="115" dy="6">(including contingency). These will range from DIO</tspan><tspan x="115" dy="6">allocation to Regional / Programme, Project, Core Needs, etc.</tspan></text></g>
<g id="n-defect-type"><rect class="bd" x="443" y="727" width="58" height="27"/><rect class="hd" x="443" y="727" width="58" height="10"/><text class="ts" x="472" y="733.9">Defect Type</text><text class="b" x="445" y="742">Identifies the types of defects<tspan x="445" dy="6">recorded</tspan></text></g>
<g id="n-defect"><rect class="bd" x="570" y="716" width="82" height="52"/><rect class="hd" x="570" y="716" width="82" height="19"/><text class="tm red" x="611" y="729.3">Defect</text><text class="b" x="572" y="740">Refer a request describes each defect<tspan x="572" dy="6">report raised in relation to a problem</tspan><tspan x="572" dy="6">associated with or on a particular asset.</tspan><tspan x="572" dy="6">The defect could be raised on an FI's</tspan><tspan x="572" dy="6">Work Management system</tspan></text></g>
<g id="n-issue"><rect class="bd" x="660" y="716" width="99" height="63"/><rect class="hd" x="660" y="716" width="99" height="19"/><text class="tm" x="709.5" y="729.3">Issue</text><text class="b" x="662" y="740">This table records all types of incidents, issues or<tspan x="662" dy="6">faults reported on an Asset. This can include the</tspan><tspan x="662" dy="6">following:</tspan><tspan x="662" dy="6">a) H&amp;S and Environmental incidents on an Asset</tspan><tspan x="662" dy="6">b) Faults reported on an Asset</tspan><tspan x="662" dy="6">c) Issues or Complaints in relation to the use of</tspan><tspan x="662" dy="6">an Asset</tspan></text></g>
<g id="n-issue-type"><rect class="bd" x="688" y="823" width="78" height="59"/><rect class="hd" x="688" y="823" width="78" height="10"/><text class="ts" x="727" y="829.9">Issue Type</text><text class="b" x="690" y="838">This defines the type of issue which<tspan x="690" dy="6">has been raised. This could range from</tspan><tspan x="690" dy="6">issues of Types:</tspan><tspan x="690" dy="6">a) H&amp;S Incident (Near Miss/Incident)</tspan><tspan x="690" dy="6">b) Environmental Incident</tspan><tspan x="690" dy="6">c) Fault Reported</tspan><tspan x="690" dy="6">d) Issues or Complaints in relation to</tspan><tspan x="690" dy="6">the use of an Asset</tspan></text></g>
<g id="n-risk"><rect class="bd" x="150" y="883" width="69" height="33"/><rect class="hd" x="150" y="883" width="69" height="19"/><text class="tm" x="184.5" y="896.3">Risk</text><text class="b" x="152" y="907">This table holds details of all risk<tspan x="152" dy="6">across projects and assets in DIO</tspan></text></g>
<g id="n-work-type"><rect class="bd" x="434" y="897" width="96" height="85"/><rect class="hd" x="434" y="897" width="96" height="10"/><text class="ts" x="482" y="903.9">Work Type</text><text class="b" x="436" y="912">This table will hold details of all types of work<tspan x="436" dy="6">carried out by and on behalf of DIO. Both</tspan><tspan x="436" dy="6">the delivery arms and in the enabling work. This</tspan><tspan x="436" dy="6">will include (but not be limited to):</tspan><tspan x="436" dy="6">a) Projects</tspan><tspan x="436" dy="6">b) Hard FM</tspan><tspan x="436" dy="6">c) Soft FM</tspan><tspan x="436" dy="6">d) Land Management</tspan><tspan x="436" dy="6">e) Professional and Technical Services</tspan><tspan x="436" dy="6">f) Management</tspan><tspan x="436" dy="6">g) Finance</tspan><tspan x="436" dy="6">h) Commercial</tspan></text></g>
<g id="n-task"><rect class="bd" x="323" y="953" width="77" height="136"/><rect class="hd" x="323" y="953" width="77" height="20"/><text class="tm" x="361.5" y="966.8">Task</text><text class="b" x="325" y="978">This table lists all Contractor / Task<tspan x="325" dy="6">performed against Work. The task</tspan><tspan x="325" dy="6">includes details around the type of</tspan><tspan x="325" dy="6">Task or sub-undertaken, its priority,</tspan><tspan x="325" dy="6">completion dates and a current status.</tspan><tspan x="325" dy="6">This can include (but not limited to):</tspan><tspan x="325" dy="6">a) Preparations</tspan><tspan x="325" dy="6">b) Technical Assessment,</tspan><tspan x="325" dy="6">c) Cataloguing,</tspan><tspan x="325" dy="6">d) Testing</tspan><tspan x="325" dy="6">e) Visiting,</tspan><tspan x="325" dy="6">f) Production, 2 Construction,</tspan><tspan x="325" dy="6">g) Approvals,</tspan><tspan x="325" dy="6">h) Commissioning,</tspan><tspan x="325" dy="6">i) Continued &amp; Support,</tspan><tspan x="325" dy="6">j) Inspections (H&amp;S, Fault, etc),</tspan><tspan x="325" dy="6">k) Remedial Repairs,</tspan><tspan x="325" dy="6">l) Plan Out and</tspan><tspan x="325" dy="6">m) Disposals</tspan></text></g>
<g id="n-task-priority"><rect class="bd" x="233" y="945" width="64" height="20"/><rect class="hd" x="233" y="945" width="64" height="9"/><text class="ts red" x="265" y="951.4">Task Priority</text><text class="b" x="235" y="961">Defines the priority of the task</text></g>
<g id="n-costs"><rect class="bd" x="125" y="975" width="102" height="101"/><rect class="hd" x="125" y="975" width="102" height="20"/><text class="tm" x="176" y="988.8">Costs</text><text class="b" x="127" y="1000">This table holds details of all costs pertaining to<tspan x="127" dy="6">the Estate by means of Cost of Ownership to</tspan><tspan x="127" dy="6">be established. This will include (but is not</tspan><tspan x="127" dy="6">limited to) projects, work order or tasks which</tspan><tspan x="127" dy="6">may occur:</tspan><tspan x="127" dy="6">a) Build costs</tspan><tspan x="127" dy="6">b) Running/Maint costs</tspan><tspan x="127" dy="6">c) Operational costs</tspan><tspan x="127" dy="6">d) Disposal costs</tspan><tspan x="127" dy="6">e) General management costs</tspan><tspan x="127" dy="6">f) Services</tspan><tspan x="127" dy="6">g) Hiring of a service</tspan><tspan x="127" dy="6">h) Compensation payments</tspan></text></g>
<g id="n-cost-type"><rect class="bd" x="36" y="1007" width="51" height="38"/><rect class="hd" x="36" y="1007" width="51" height="10"/><text class="ts" x="61.5" y="1013.9">Cost Type</text><text class="b" x="38" y="1022">Define and holds<tspan x="38" dy="6">the different Types of</tspan><tspan x="38" dy="6">Cost:</tspan><tspan x="38" dy="6">(Work Schedule/project)</tspan></text></g>
<g id="n-cost-note"><text style="font-size:2.8px" class="red" x="106" y="1098">Costs may be incurred<tspan x="106" dy="3.6">and the intention to be</tspan><tspan x="106" dy="3.6">recorded against budget</tspan><tspan x="106" dy="3.6">and accounted in DIO</tspan><tspan x="106" dy="3.6">at DDO</tspan></text><path d="M136,1094H140V1114H137" fill="none" stroke="#999" stroke-width=".5"/></g>
<g id="n-task-type"><rect class="bd" x="233" y="1107" width="54" height="25"/><rect class="hd" x="233" y="1107" width="54" height="10"/><text class="ts" x="260" y="1113.9">Task Type</text><text class="b" x="235" y="1122">Identifies the type of task<tspan x="235" dy="6">being performed</tspan></text></g>
<g id="n-task-status"><rect class="bd" x="431" y="1107" width="51" height="44"/><rect class="hd" x="431" y="1107" width="51" height="11"/><text class="ts" x="456.5" y="1114.4">Task Status</text><text class="b" x="433" y="1123">Includes Task status for<tspan x="433" dy="6">expecting, reviewing,</tspan><tspan x="433" dy="6">signing off, confirming,</tspan><tspan x="433" dy="6">scheduled, in progress,</tspan><tspan x="433" dy="6">etc</tspan></text></g>
<g id="n-report"><rect class="bd" x="585" y="914" width="58" height="33"/><rect class="hd" x="585" y="914" width="58" height="16"/><text class="tm red" x="614" y="925.8">Report</text><text class="b" x="587" y="936">This will record any reports<tspan x="587" dy="6">resulting from a Task</tspan></text></g>
<g id="n-condition"><rect class="bd" x="795" y="899" width="99" height="58"/><rect class="hd" x="795" y="899" width="99" height="20"/><text class="tm" x="844.5" y="912.8">Condition</text><text class="b" x="797" y="924">This table records all condition assessments<tspan x="797" dy="6">which have taken place against an Asset and is</tspan><tspan x="797" dy="6">(or should be) linked to Asset Condition Data</tspan><tspan x="797" dy="6">This condition assessment covers types:</tspan><tspan x="797" dy="6">a) Low Quality Assessments (including Phases)</tspan><tspan x="797" dy="6">b) Asset Condition Assessments</tspan></text></g>
<g id="n-condition-status"><rect class="bd" x="921" y="912" width="54" height="32"/><rect class="hd" x="921" y="912" width="54" height="10"/><text class="ts" x="948" y="918.9">Condition Status</text><text class="b" x="923" y="928">Details define the current<tspan x="923" dy="6">status in relation to</tspan><tspan x="923" dy="6">Condition's assessment</tspan></text></g>
<g id="n-condition-specification"><rect class="bd" x="803" y="992" width="83" height="25"/><rect class="hd" x="803" y="992" width="83" height="10"/><text class="ts" x="844.5" y="998.9">Condition Specification</text><text class="b" x="805" y="1008">Details the type of Condition assessment<tspan x="805" dy="6">which has been carried out on the Asset</tspan></text></g>
<g id="notes">
<rect x="1111" y="704" width="503" height="383" fill="#fff" stroke="#bfbfbf" stroke-width="1"/>
<text x="1114" y="716" style="font-size:9px;font-weight:bold;fill:#333" text-decoration="underline" textLength="300" lengthAdjust="spacingAndGlyphs">Data Standards and Conventions Applied to the Enterprise Data Model</text>
<g class="ds">
<text x="1113" y="741">•</text><text x="1113" y="818">•</text><text x="1113" y="882">•</text><text x="1113" y="974">•</text><text x="1113" y="1013">•</text><text x="1113" y="1065">•</text>
<text x="1119" y="741" textLength="445">The Spec 024 Estate Data standard sets out the policy, with implementation guidance for the recording and</text>
<text x="1119" y="754" textLength="492">codification of Land and Property features such as Land Parcels, buildings and infrastructure in the MOD. The Spec 024</text>
<text x="1119" y="767" textLength="486">Estate Data standard although useful does not completely resolve some of the anomalies that exist between levels of</text>
<text x="1119" y="780" textLength="461">Land Parcel and Asset. The use of unique identifiers to define the relationship of a particular Land and Property</text>
<text x="1119" y="793" textLength="192">feature does hinder the flexibility of SPEC 024.</text>
<text x="1119" y="818" textLength="468">It is for this reason that the EDM, although incorporating the SPEC 024 definitions, promotes a single asset entity</text>
<text x="1119" y="831" textLength="489">concept. This essentially allows the business more flexibility in how Land Parcels and Assets are recorded and also can</text>
<text x="1119" y="844" textLength="482">be adapted to future Level 3 and 4 Assets if or when required. If changes are to be made to which levels of Asset are</text>
<text x="1119" y="857" textLength="403">recorded using this model, the impact is minimal in terms of number of new tables to be created.</text>
<text x="1119" y="882" textLength="475">The single asset entity model as first described in v.012 of the EDM defines that all Land and Property features and</text>
<text x="1119" y="895" textLength="460">more or less record the same generic information (if different in the detail) but at different levels with optional</text>
<text x="1119" y="908" textLength="457">relationships between each level. An example is Condition, Use and Value are all aspects which can be applied</text>
<text x="1119" y="921" textLength="479">whichever level of Asset is being viewed. Using the single asset entity concept allows an asset to be related to more</text>
<text x="1119" y="934" textLength="486">than one Land Parcel, etc. The single asset entity also provides a more flexible approach going forward if any changes</text>
<text x="1119" y="947" textLength="177">need to be made to how data is organised.</text>
<text x="1119" y="974" textLength="492">Each entity, its relationships and attributes will defined in more detail within the accompanying template excel version</text>
<text x="1119" y="987" textLength="57">of this model.</text>
<text x="1119" y="1013" textLength="489">A detailed Data Catalogue is also being developed which will define each entity and attribute in this model identifying</text>
<text x="1119" y="1026" textLength="490">the business data owner within the organisation (Dept/Person) and also the data steward responsible for ensuring the</text>
<text x="1119" y="1039" textLength="185">data is available and the data system source.</text>
<text x="1119" y="1065" textLength="467">Business definitions (or Descriptions) for each of the entities will also be incorporated within the Data Catalogue.</text>
<text x="1119" y="1078" textLength="302">Much of these will be lifted from the existing Data Definitions document.</text>
</g>
</g>
<g id="key">
<text x="1428" y="1095" style="font-size:5.5px;font-weight:bold;fill:#333" text-decoration="underline">Key</text>
<rect x="1426" y="1097" width="175" height="65" fill="#fff" stroke="#aaa" stroke-width=".8"/>
<rect class="bd" x="1433" y="1100" width="64" height="56"/><rect class="hd" x="1433" y="1100" width="64" height="14"/>
<text class="ts" style="font-size:6px" x="1465" y="1109">Entity</text>
<text x="1436" y="1121" style="font-size:5.3px;font-weight:bold;fill:#333">Primary Key [PK]</text>
<text x="1436" y="1131" style="font-size:5.3px;font-weight:bold;fill:#333">Foreign Key [FK]</text>
<text x="1436" y="1141" style="font-size:5.3px;font-weight:bold;fill:#333">N.B Item</text>
<path class="cn" d="M1518,1111H1549" marker-start="url(#many)"/>
<path class="cn" d="M1518,1120H1549" marker-start="url(#crow)"/>
<path class="cn" d="M1518,1130H1549" marker-start="url(#zm)"/>
<path d="M1518,1140H1549" fill="none" stroke="#ccc" stroke-width="2.5"/>
<path class="cn" d="M1518,1151H1549" marker-start="url(#zo)"/>
<g style="font-size:5.5px;font-weight:bold;fill:#333">
<text x="1554" y="1113">Many</text><text x="1554" y="1122">1 or Many</text><text x="1554" y="1132">0 or Many</text><text x="1554" y="1142">1 Only</text><text x="1554" y="1153">0 or 1</text>
</g>
</g>
</svg>
